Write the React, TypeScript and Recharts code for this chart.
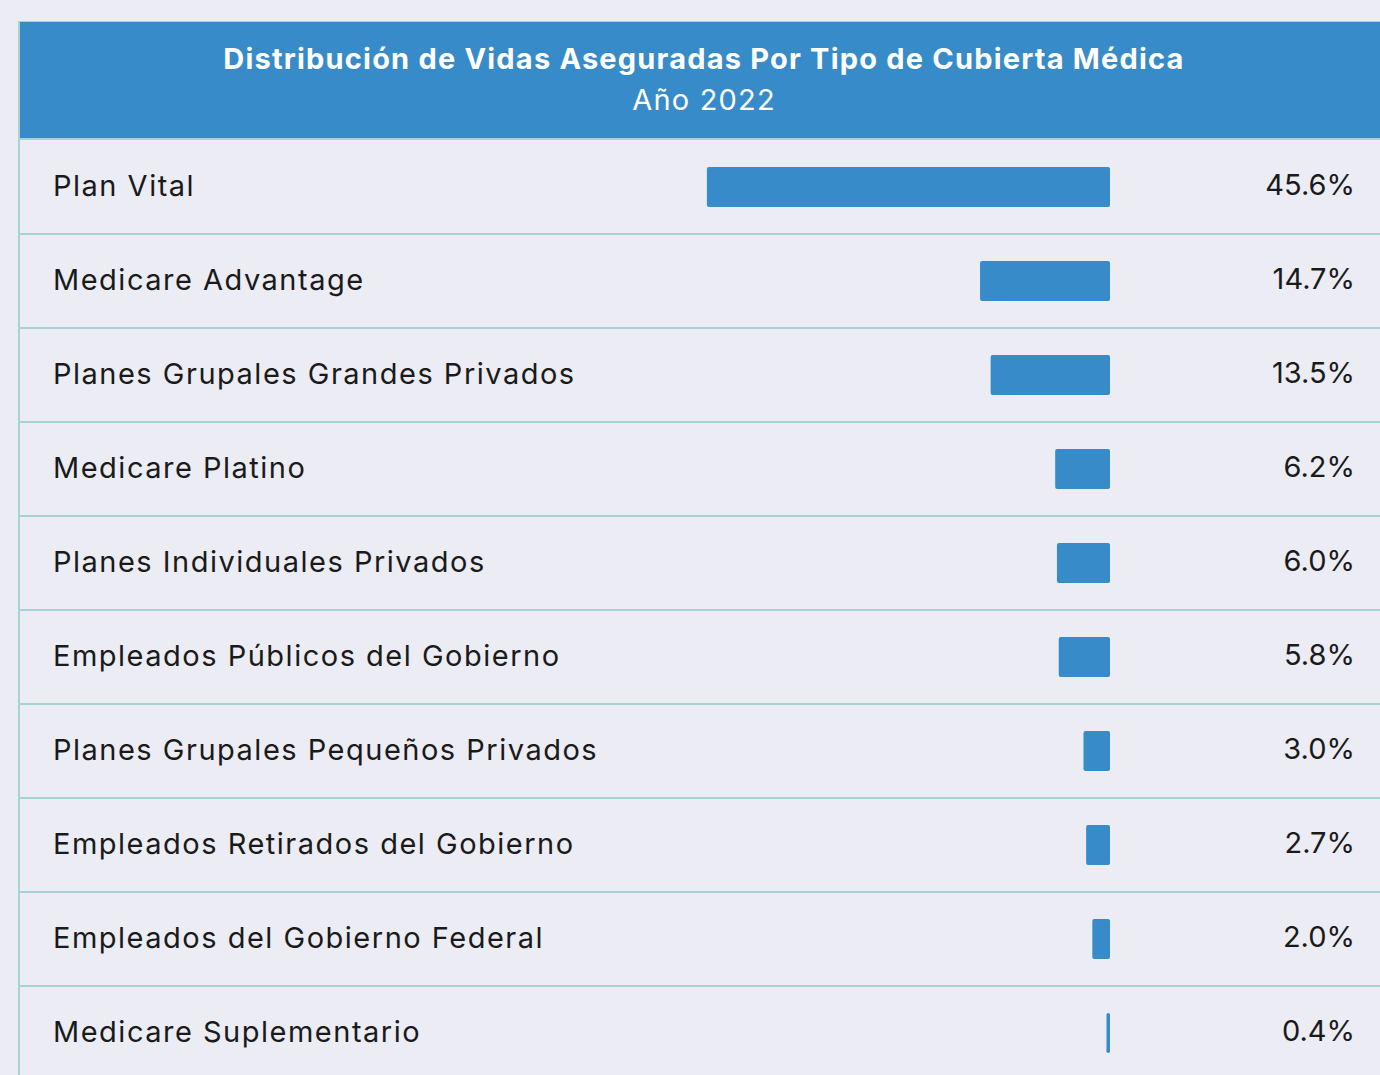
import { BarChart, Bar, XAxis, YAxis, LabelList } from "recharts";

const categories = [
  "Plan Vital",
  "Medicare Advantage",
  "Planes Grupales Grandes Privados",
  "Medicare Platino",
  "Planes Individuales Privados",
  "Empleados Públicos del Gobierno",
  "Planes Grupales Pequeños Privados",
  "Empleados Retirados del Gobierno",
  "Empleados del Gobierno Federal",
  "Medicare Suplementario",
];

const shares = [45.6, 14.7, 13.5, 6.2, 6.0, 5.8, 3.0, 2.7, 2.0, 0.4];

const data = categories.map((name, i) => ({ name, value: shares[i] }));

const BLUE = "#378bc8";
const TEAL = "#a7d3d2";
const BG = "#ececf4";
const FONT = "Inter, 'Open Sans', sans-serif";

const CHART_W = 1366;
const CHART_H = 940;
const ROW_H = CHART_H / categories.length;

const RowTick = (props: any) => {
  const { y, payload } = props;
  return (
    <g>
      <text
        x={33}
        y={y - 2}
        dominantBaseline="central"
        fontSize={29}
        letterSpacing={1.5}
        fontFamily={FONT}
        fill="#1a1a1a"
      >
        {payload.value}
      </text>
      <line x1={0} x2={CHART_W} y1={y + ROW_H / 2} y2={y + ROW_H / 2} stroke={TEAL} strokeWidth={2} />
    </g>
  );
};

const PctLabel = (props: any) => {
  const { y, height, value } = props;
  return (
    <text
      x={1335}
      y={y + height / 2 - 3}
      textAnchor="end"
      dominantBaseline="central"
      fontSize={29}
      letterSpacing={0}
      fontFamily={FONT}
      fill="#1a1a1a"
    >
      {`${Number(value).toFixed(1)}%`}
    </text>
  );
};

export default function App() {
  return (
    <div style={{ position: "absolute", left: 0, top: 0, width: 1380, height: 1075, overflow: "hidden", background: BG }}>
      <div style={{ position: "absolute", left: 18, top: 21, width: 1368, borderLeft: `2px solid ${TEAL}` }}>
        <div
          style={{
            height: 119,
            background: BLUE,
            borderTop: `1px solid ${TEAL}`,
            borderBottom: `2px solid ${TEAL}`,
            color: "#fff",
            fontFamily: FONT,
            fontSize: 29,
            letterSpacing: 1.2,
            textAlign: "center",
            paddingTop: 16,
            boxSizing: "border-box",
            lineHeight: "41px",
          }}
        >
          <div style={{ fontWeight: 700 }}>Distribución de Vidas Aseguradas Por Tipo de Cubierta Médica</div>
          <div style={{ fontWeight: 400 }}>Año 2022</div>
        </div>
        <BarChart
          width={CHART_W}
          height={CHART_H}
          data={data}
          layout="vertical"
          margin={{ top: 0, right: 276, left: 0, bottom: 0 }}
        >
          <XAxis type="number" domain={[0, 50]} reversed hide />
          <YAxis type="category" dataKey="name" width={648} axisLine={false} tickLine={false} interval={0} tick={RowTick} />
          <Bar dataKey="value" fill={BLUE} barSize={40} radius={2} isAnimationActive={false}>
            <LabelList dataKey="value" content={PctLabel} />
          </Bar>
        </BarChart>
      </div>
    </div>
  );
}
